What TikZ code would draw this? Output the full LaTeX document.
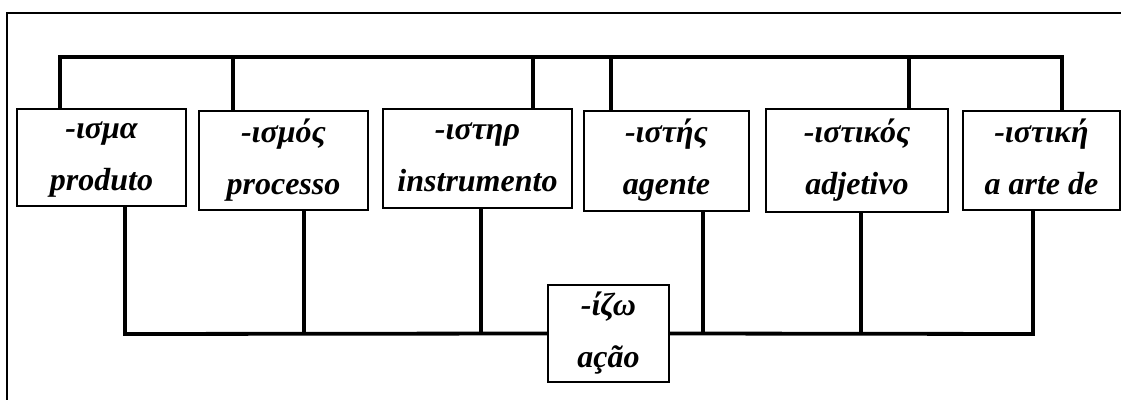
\documentclass[tikz,border=0pt]{standalone}
\usepackage{fontspec}
\setmainfont{Liberation Serif}
\newcommand{\twolines}[2]{\rule{0pt}{11pt}#1\\#2\rule[-4pt]{0pt}{4pt}}
\begin{document}
\begin{tikzpicture}[x=0.5pt,y=-0.5pt,
  box/.style={draw=black,line width=1pt,fill=white,inner sep=0pt,align=center,
    font=\bfseries\itshape\fontsize{16}{26}\selectfont},
  wire/.style={line width=1.9pt,line cap=butt,line join=miter},
  frame/.style={line width=1pt}]
\useasboundingbox (0,0) rectangle (1121,400);
\draw[frame] (7,420) |- (1140,13);
% boxes
\node[box,minimum width=169*0.5pt,minimum height=97*0.5pt] (b1) at (101.5,157.5) {\twolines{-ισμα}{produto}};
\node[box,minimum width=169*0.5pt,minimum height=99*0.5pt] (b2) at (283.5,160.5) {\twolines{-ισμός}{processo}};
\node[box,minimum width=189*0.5pt,minimum height=99*0.5pt] (b3) at (477.5,158.5) {\twolines{-ιστηρ}{instrumento}};
\node[box,minimum width=165*0.5pt,minimum height=100*0.5pt] (b4) at (666.5,161) {\twolines{-ιστής}{agente}};
\node[box,minimum width=182*0.5pt,minimum height=103*0.5pt] (b5) at (857,160.5) {\twolines{-ιστικός}{adjetivo}};
\node[box,minimum width=157*0.5pt,minimum height=99*0.5pt] (b6) at (1041.5,160.5) {\twolines{-ιστική}{a arte de}};
\node[box,minimum width=121*0.5pt,minimum height=97*0.5pt] (c) at (608.5,333.5) {\twolines{-ίζω}{ação}};
% top bus
\coordinate (t1) at (60,57);
\coordinate (t2) at (233,57);
\coordinate (t3) at (533,57);
\coordinate (t4) at (611,57);
\coordinate (t5) at (909,57);
\coordinate (t6) at (1062,57);
\draw[wire] (b1.north -| t1) -- (t1) -- (t6) -- (b6.north -| t6);
\foreach \i in {2,3,4,5} \draw[wire] (b\i.north -| t\i) -- (t\i);
% bottom bus
\coordinate (u1) at (125,334);
\coordinate (u2) at (304,334);
\coordinate (u3) at (481,334);
\coordinate (u4) at (703,334);
\coordinate (u5) at (861,334);
\coordinate (u6) at (1033,334);
\draw[wire] (b1.south -| u1) -- (u1) -- (c.west);
\draw[wire] (c.east) -- (u6) -- (b6.south -| u6);
\foreach \i in {2,3,4,5} \draw[wire] (b\i.south -| u\i) -- (u\i);
\end{tikzpicture}
\end{document}
